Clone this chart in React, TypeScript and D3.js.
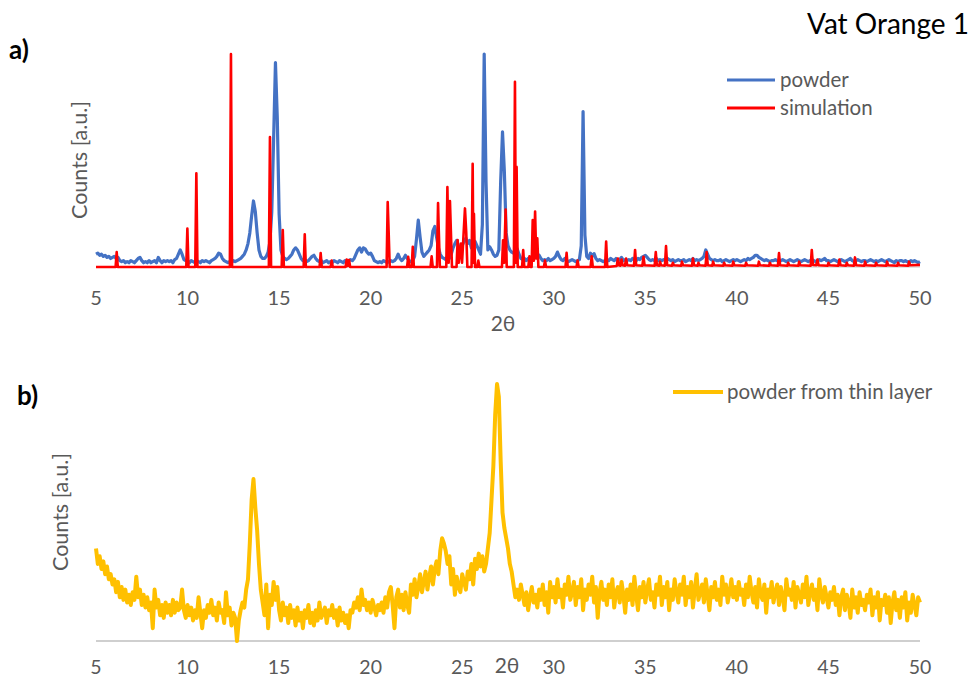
import React from "react";
import * as d3 from "d3";

const X_TICKS = [5, 10, 15, 20, 25, 30, 35, 40, 45, 50];
const SERIES_A = ["powder", "simulation"];
const SERIES_B = ["powder from thin layer"];

// powder (blue), 2θ from 5.0 to 50.0 in 0.1 steps
const POWDER_START = 5;
const POWDER_STEP = 0.1;
const POWDER = [
  6, 6.5, 5.5, 6, 5, 5.5, 4.5, 5, 4, 4.5,
  5, 4, 4.5, 3, 2.5, 3, 2, 2.5, 2, 3,
  2.5, 2, 3, 4, 4.5, 3, 2, 2.5, 2, 3,
  2, 2.5, 3, 2, 4.5, 3, 2, 3, 2.5, 3,
  2.5, 3, 2, 3.5, 4, 6, 8, 6, 3.5, 3,
  2.5, 2, 3, 2.5, 2, 3, 2.5, 2, 3, 2.5,
  3, 2.5, 2, 3, 3.5, 4, 5, 6.5, 6, 4,
  3, 2.5, 2, 2.5, 2, 3, 2.5, 3, 3.5, 4,
  5, 6, 8, 11, 16, 24, 31, 26, 16, 8,
  5, 4, 4, 5, 7, 12, 26, 60, 96, 70,
  25, 8, 5, 4, 3.5, 4, 5, 6, 8, 9,
  8, 6, 4, 3, 3.5, 2.5, 3, 4, 5, 5.5,
  4, 3, 2.5, 3, 2, 2.5, 3, 2, 2.5, 2,
  3, 2.5, 2, 3, 2.5, 2, 3, 2.5, 3, 3.5,
  3, 4, 6, 8, 9, 7, 9, 8.5, 7, 6,
  6.5, 5, 3, 2.5, 2, 2.5, 2, 3, 2.5, 2,
  2.5, 3, 2.5, 3, 4, 6, 4, 3, 4, 5.5,
  4, 3, 2.5, 3, 5, 13, 22, 14, 7, 5,
  6, 7, 8, 10, 17, 19, 14, 9, 6, 4.5,
  4, 3.5, 5, 4, 6, 9, 11, 12.5, 10, 8,
  10, 12, 13.5, 11, 12.5, 9, 11, 12, 10, 8,
  6, 20, 100, 40, 8, 9.5, 8, 6, 5, 5.5,
  8, 40, 63.5, 45, 16, 10, 8, 7, 6.5, 7,
  8.5, 6, 4, 3.5, 4, 3, 4, 3.5, 3, 4,
  4.5, 5, 5.5, 4, 3, 3.5, 3, 4, 3, 3.5,
  4, 5, 7, 5, 3.5, 3, 4, 3, 2.5, 3,
  3.5, 3, 2.5, 3, 3.5, 10, 73, 15, 5, 4,
  6.5, 5, 6.3, 4, 3, 3.5, 3, 2.5, 3, 3.5,
  3, 4, 3.5, 3, 4, 3, 3.5, 4.5, 3, 3.5,
  3, 3.5, 3, 4, 3.5, 3, 4, 3.5, 4.5, 5,
  5.5, 4.5, 3.5, 3, 3.5, 3, 4, 3, 3.5, 3,
  3.5, 3, 4, 3.5, 3, 3.5, 2.5, 3, 3.5, 3,
  3, 3.5, 2.5, 3, 3.5, 3, 4, 3, 3.5, 3,
  3.5, 4, 5, 8, 6, 4, 3.5, 3, 3.5, 3,
  3, 3.5, 2.5, 3, 3.5, 3, 2.5, 3, 3.5, 3,
  3.5, 3, 2.5, 3, 3.5, 3, 4, 3.5, 4, 4.5,
  5.5, 5.5, 4.5, 4, 3.5, 3, 3.5, 3, 2.5, 3,
  3, 3.5, 3, 2.5, 3, 3.5, 3, 2.5, 3, 3.5,
  3, 2.5, 3, 3.5, 3, 2.5, 3, 3.5, 3, 2.5,
  3, 3.5, 3, 2.5, 3, 3.5, 3, 3.5, 4, 3,
  3, 2.5, 3, 3.5, 3, 2.5, 3, 3.5, 3, 2.5,
  3, 3.5, 4, 3, 2.5, 3, 3.5, 3, 2.5, 3,
  3, 2.5, 3, 3.5, 3, 2.5, 3, 2.5, 3, 3.5,
  3, 2.5, 3, 3.5, 3, 2.5, 2, 3, 2.5, 3,
  3, 2.5, 3, 2.5, 2, 3, 2.5, 3, 2.5, 2,
  2.5,
];

// simulation (red), [2θ, intensity]
const SIMULATION: [number, number][] = [
  [5, 0],
  [6.07, 0], [6.13, 7], [6.19, 0],
  [9.93, 0], [9.99, 18], [10.05, 0],
  [10.42, 0], [10.48, 44], [10.54, 0],
  [12.31, 0], [12.37, 100], [12.43, 0],
  [14.44, 0], [14.5, 61], [14.56, 0],
  [15.14, 0], [15.2, 17.3], [15.26, 0],
  [16.34, 0], [16.4, 15.3], [16.46, 0],
  [17.21, 0], [17.27, 6.5], [17.33, 0],
  [17.81, 0], [17.87, 3], [17.93, 0],
  [18.63, 0], [18.69, 3.5], [18.75, 0.5], [18.82, 3.3], [18.88, 0],
  [20.87, 0], [20.93, 30.5], [20.98, 17], [21.04, 0],
  [21.99, 0], [22.05, 4.8], [22.11, 0],
  [22.24, 0], [22.3, 9.5], [22.36, 0],
  [23.27, 0], [23.33, 5], [23.39, 0],
  [23.62, 0], [23.68, 30], [23.72, 17], [23.78, 0],
  [24.13, 0], [24.19, 37.5], [24.26, 2], [24.33, 31], [24.38, 17], [24.44, 0],
  [24.69, 0], [24.75, 12.6], [24.81, 2], [24.93, 11], [24.99, 2], [25.15, 27.5], [25.22, 16], [25.28, 0],
  [25.51, 0], [25.57, 48.5], [25.61, 2], [25.64, 25], [25.7, 0],
  [25.82, 0], [25.88, 3], [25.94, 0],
  [27.17, 0], [27.23, 12.5], [27.29, 2], [27.37, 27], [27.43, 0],
  [27.82, 0], [27.88, 87], [27.93, 2], [27.97, 47], [28.03, 0],
  [28.27, 0], [28.33, 8], [28.39, 0],
  [28.61, 0], [28.67, 5], [28.73, 0],
  [28.79, 0], [28.85, 22], [28.91, 3], [28.98, 26], [29.04, 4], [29.1, 13.5], [29.16, 0],
  [29.46, 0], [29.52, 3], [29.58, 0],
  [30.64, 0], [30.7, 6.7], [30.76, 0],
  [31.24, 0], [31.3, 3], [31.36, 0],
  [32.01, 0], [32.07, 5], [32.13, 0],
  [32.8, 0], [32.86, 12], [32.92, 0],
  [33.44, 0.5], [33.5, 4], [33.56, 0.8], [33.64, 0.6], [33.7, 3.5], [33.76, 0.8], [33.89, 0.6], [33.95, 4], [34.01, 0.8],
  [34.38, 0.6], [34.44, 8], [34.5, 0.8], [34.84, 0.6], [34.9, 4.8], [34.96, 0.8],
  [35.51, 0.6], [35.57, 7], [35.63, 0.8], [35.76, 0.6], [35.8, 2.5], [35.86, 0.8],
  [36.07, 0.6], [36.13, 9.8], [36.19, 0.8], [36.46, 0.6], [36.5, 2], [36.56, 0.8], [36.96, 0.6], [37.0, 2.5], [37.06, 0.8],
  [37.55, 0.6], [37.6, 4], [37.66, 0.8], [37.86, 0.6], [37.9, 2], [37.96, 0.8],
  [38.29, 0.6], [38.35, 7], [38.41, 0.8], [38.66, 0.6], [38.7, 2.5], [38.76, 0.8], [39.26, 0.6], [39.3, 2], [39.36, 0.8], [39.76, 0.6], [39.8, 2.5], [39.86, 0.8],
  [40.46, 0.6], [40.5, 2], [40.56, 0.8], [41.16, 0.6], [41.2, 2.5], [41.26, 0.8], [41.76, 0.6], [41.8, 2], [41.86, 0.8],
  [42.24, 0.6], [42.3, 6.5], [42.36, 0.8], [42.76, 0.6], [42.8, 2], [42.86, 0.8], [43.36, 0.6], [43.4, 2.5], [43.46, 0.8],
  [44.03, 0.6], [44.09, 8], [44.15, 1], [44.34, 0.8], [44.4, 3.5], [44.46, 0.8], [44.96, 0.6], [45.0, 2], [45.06, 0.8],
  [45.54, 0.6], [45.6, 3.5], [45.66, 0.8], [45.96, 0.6], [46.0, 2], [46.06, 0.8],
  [46.39, 0.6], [46.45, 4.5], [46.51, 0.8], [46.96, 0.6], [47.0, 2.5], [47.06, 0.8], [47.56, 0.6], [47.6, 2], [47.66, 0.8],
  [48.16, 0.6], [48.2, 2.5], [48.26, 0.8], [48.76, 0.6], [48.8, 2], [48.86, 0.8], [49.36, 0.6], [49.4, 2.5], [49.46, 0.8], [50, 1],
];

// powder from thin layer (yellow), 2θ from 5.0 to 50.0 in 0.1 steps
const THIN_START = 5;
const THIN_STEP = 0.1;
const THIN = [
  36, 30, 33, 28, 31, 26, 29, 24, 26, 22,
  24, 19, 23, 17, 21, 16, 20, 15, 18, 14,
  19, 16, 25, 17, 20, 14, 18, 13, 17, 12,
  15, 5, 20, 13, 16, 10, 14, 9, 15, 11,
  14, 10, 16, 11, 15, 12, 13, 20, 12, 9,
  14, 10, 13, 8, 12, 9, 17, 11, 5, 12,
  9, 14, 11, 16, 10, 13, 8, 15, 11, 12,
  7, 19, 10, 13, 6, 11, 9, 0, 8, 12,
  15, 13, 20, 24, 38, 55, 63, 52, 43, 30,
  20, 15, 10, 22, 5, 18, 14, 23, 16, 21,
  12, 8, 15, 10, 13, 7, 14, 9, 12, 6,
  13, 8, 11, 5, 12, 9, 14, 7, 11, 6,
  12, 8, 15, 9, 11, 13, 7, 12, 10, 14,
  9, 12, 6, 13, 8, 11, 7, 10, 5, 12,
  11, 15, 13, 17, 12, 20, 14, 16, 12, 15,
  11, 16, 13, 10, 14, 12, 15, 11, 17, 13,
  19, 21, 14, 5, 17, 20, 13, 18, 12, 19,
  14, 11, 22, 18, 24, 17, 21, 26, 19, 23,
  27, 20, 25, 29, 22, 28, 31, 26, 35, 40,
  38, 35, 30, 33, 22, 28, 18, 25, 21, 19,
  26, 23, 20, 27, 24, 30, 22, 32, 28, 34,
  29, 33, 27, 30, 36, 42, 55, 68, 88, 100,
  95, 70, 50, 44, 40, 36, 30, 27, 22, 17,
  20, 16, 22, 18, 14, 19, 12, 17, 21, 15,
  18, 13, 20, 16, 22, 14, 19, 11, 23, 17,
  21, 15, 24, 17, 20, 13, 22, 18, 25, 16,
  19, 23, 14, 21, 17, 24, 12, 20, 16, 22,
  18, 25, 15, 21, 9, 19, 23, 16, 20, 14,
  22, 17, 24, 13, 19, 21, 15, 23, 18, 11,
  20, 16, 22, 14, 25, 18, 12, 21, 17, 23,
  15, 20, 24, 16, 19, 13, 22, 18, 25, 14,
  21, 17, 23, 12, 20, 16, 24, 19, 15, 22,
  18, 25, 14, 21, 17, 23, 13, 20, 26, 16,
  19, 22, 15, 24, 18, 12, 21, 17, 23, 16,
  20, 14, 25, 18, 22, 15, 19, 24, 17, 21,
  16, 23, 18, 20, 14, 22, 17, 25, 19, 15,
  21, 13, 24, 18, 16, 22, 11, 20, 17, 23,
  15, 19, 22, 14, 21, 17, 12, 24, 18, 20,
  16, 23, 13, 21, 18, 15, 22, 17, 25, 14,
  19, 22, 16, 20, 12, 24, 18, 15, 21, 17,
  13, 19, 16, 21, 14, 18, 10, 17, 20, 12,
  18, 15, 9, 20, 13, 17, 11, 19, 14, 16,
  12, 18, 15, 20, 10, 17, 13, 19, 8, 16,
  14, 18, 11, 17, 7, 15, 19, 12, 16, 9,
  17, 13, 19, 8, 15, 11, 18, 14, 10, 17,
  15,
];

const FONT = "Lato, 'Open Sans', sans-serif";
const GRAY = "#595959";

export default function App() {
  const x = d3.scaleLinear().domain([5, 50]).range([96, 920]);
  const yA = d3.scaleLinear().domain([0, 100]).range([267, 54]);
  const yB = d3.scaleLinear().domain([0, 100]).range([641, 384]);

  const powderPts: [number, number][] = POWDER.map((v, i) => [POWDER_START + i * POWDER_STEP, v]);
  const thinPts: [number, number][] = THIN.map((v, i) => [THIN_START + i * THIN_STEP, v]);

  const lineA = d3.line<[number, number]>().x((d) => x(d[0])).y((d) => yA(d[1]));
  const lineB = d3.line<[number, number]>().x((d) => x(d[0])).y((d) => yB(d[1]));

  return (
    <svg
      width={973}
      height={680}
      style={{ position: "absolute", left: 0, top: 0, background: "#fff" }}
      fontFamily={FONT}
    >
      <rect width={973} height={680} fill="#fff" />
      {/* Title */}
      <text x={969} y={34} textAnchor="end" fontSize={28} fill="#000">Vat Orange 1</text>

      {/* Panel a */}
      <text x={9} y={59} fontSize={26} fontWeight="bold" fill="#000">a)</text>
      <line x1={x(5)} x2={x(50)} y1={yA(0)} y2={yA(0)} stroke="#d9d9d9" strokeWidth={1.5} />
      <path d={lineA(powderPts) || ""} fill="none" stroke="#4472C4" strokeWidth={3.2} strokeLinejoin="round" />
      <path d={lineA(SIMULATION) || ""} fill="none" stroke="#FF0000" strokeWidth={2.6} strokeLinejoin="round" />
      {X_TICKS.map((t) => (
        <text key={"a" + t} x={x(t)} y={305} textAnchor="middle" fontSize={20} fill={GRAY}>{t}</text>
      ))}
      <text x={503} y={331} textAnchor="middle" fontSize={21} fill={GRAY}>2θ</text>
      <text transform="translate(87,160) rotate(-90)" textAnchor="middle" fontSize={21.5} fill={GRAY}>Counts [a.u.]</text>
      {SERIES_A.map((s, i) => (
        <g key={s}>
          <line x1={727} x2={775} y1={80 + i * 28} y2={80 + i * 28} stroke={i === 0 ? "#4472C4" : "#FF0000"} strokeWidth={3} />
          <text x={780} y={87 + i * 28} fontSize={20.5} fill={GRAY}>{s}</text>
        </g>
      ))}

      {/* Panel b */}
      <text x={17} y={405} fontSize={26} fontWeight="bold" fill="#000">b)</text>
      <line x1={x(5)} x2={x(50)} y1={yB(0)} y2={yB(0)} stroke="#bfbfbf" strokeWidth={1.5} />
      <path d={lineB(thinPts) || ""} fill="none" stroke="#FFC000" strokeWidth={4} strokeLinejoin="round" />
      {X_TICKS.map((t) => (
        <text key={"b" + t} x={x(t)} y={674} textAnchor="middle" fontSize={19.5} fill={GRAY}>{t}</text>
      ))}
      <text x={507} y={673} textAnchor="middle" fontSize={21} fill={GRAY}>2θ</text>
      <text transform="translate(68,512) rotate(-90)" textAnchor="middle" fontSize={21.5} fill={GRAY}>Counts [a.u.]</text>
      {SERIES_B.map((s) => (
        <g key={s}>
          <line x1={673} x2={723} y1={392} y2={392} stroke="#FFC000" strokeWidth={4} />
          <text x={727} y={399} fontSize={20.5} fill={GRAY}>{s}</text>
        </g>
      ))}
    </svg>
  );
}
